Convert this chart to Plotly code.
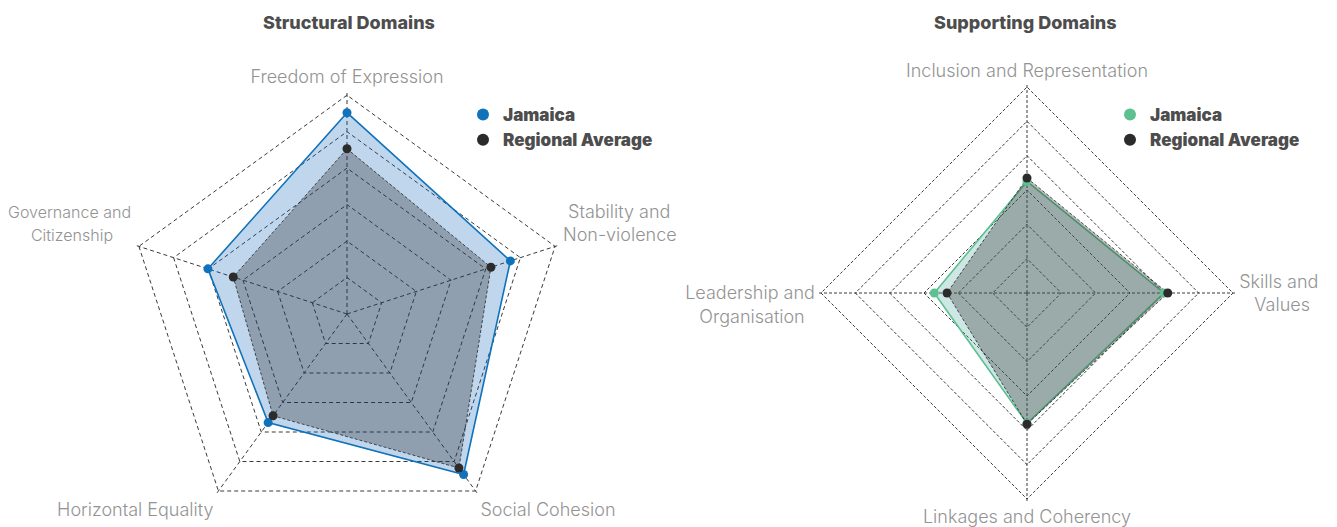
import plotly.graph_objects as go

NB = "\u00a0"
SMALL = "<span style='font-size:16px'>{}</span>"

# ---- data ----
structural_axes = ["Freedom of Expression", NB + "Stability and<br>Non-violence<br>" + NB,
                   "Social Cohesion", "Horizontal Equality",
                   SMALL.format("Governance and") + "<br>" + SMALL.format("Citizenship" + NB * 4)
                   + "<br>" + NB]
structural_jamaica = [5.52, 4.71, 5.44, 3.68, 4.01]
structural_regional = [4.53, 4.15, 5.22, 3.45, 3.28]

supporting_axes = ["Inclusion and Representation", "Skills and<br>" + NB * 3 + "Values",
                   "Linkages and Coherency", NB + "<br>Leadership and<br>Organisation" + NB * 2]
supporting_jamaica = [3.25, 3.99, 3.80, 2.70]
supporting_regional = [3.35, 4.10, 3.82, 2.33]

series_names = ["Jamaica", "Regional Average"]
panel_titles = ["Structural Domains", "Supporting Domains"]

FONT = "Inter"
LABEL_GREY = "#939393"
TEXT_DARK = "#4d4d4d"
DARK = "#2b2b2b"
BLUE = "#1072ba"
GREEN = "#5cc08f"

W, H = 1337, 527
OFF = 8  # page offset of the plot inside the browser window
RMAX = 6.06  # a bit past the outer ring so that ring 6 gets drawn


def closed(v):
    return list(v) + [v[0]]


fig = go.Figure()


def add_panel(polar, legend, axes, jam, reg, jam_color, jam_fill):
    fig.add_trace(go.Scatterpolar(
        r=closed(jam), theta=closed(axes), subplot=polar, mode="lines",
        fill="toself", fillcolor=jam_fill, line=dict(color=jam_color, width=1.6),
        showlegend=False, hoverinfo="skip"))
    fig.add_trace(go.Scatterpolar(
        r=closed(reg), theta=closed(axes), subplot=polar, mode="lines",
        fill="toself", fillcolor="rgba(40,40,40,0.31)",
        line=dict(color="rgba(40,40,40,0.8)", width=1, dash="3px,2px"),
        showlegend=False, hoverinfo="skip"))
    fig.add_trace(go.Scatterpolar(
        r=jam, theta=axes, subplot=polar, mode="markers", name=series_names[0],
        marker=dict(color=jam_color, size=9), legend=legend))
    fig.add_trace(go.Scatterpolar(
        r=reg, theta=axes, subplot=polar, mode="markers", name=series_names[1],
        marker=dict(color=DARK, size=9), legend=legend))


add_panel("polar", "legend", structural_axes, structural_jamaica, structural_regional,
          BLUE, "rgba(0,90,180,0.25)")
add_panel("polar2", "legend2", supporting_axes, supporting_jamaica, supporting_regional,
          GREEN, "rgba(80,170,160,0.28)")


def domain(cx, cy, ring):
    # cx, cy: centre in window pixels; ring: outer ring radius in pixels
    r = ring * RMAX / 6
    fx, fy = cx - OFF, cy - OFF
    fyb = H - fy
    return dict(x=[(fx - r) / W, (fx + r) / W], y=[max(0, (fyb - r) / H), min(1, (fyb + r) / H)])


def polar_layout(dom, dash, ticklen):
    return dict(
        domain=dom,
        gridshape="linear",
        bgcolor="rgba(0,0,0,0)",
        radialaxis=dict(range=[0, RMAX], dtick=1, showticklabels=False, ticks="",
                        showline=False, gridcolor="#3a3a3a", gridwidth=0.8, griddash=dash),
        angularaxis=dict(direction="clockwise", rotation=90, showline=False,
                         ticks="outside", ticklen=ticklen, tickcolor="rgba(0,0,0,0)",
                         gridcolor="#3a3a3a", gridwidth=0.8, griddash=dash,
                         tickfont=dict(family=FONT, size=18, color=LABEL_GREY, weight=300)),
    )


legend_common = dict(
    font=dict(family=FONT, size=17, color=TEXT_DARK, weight=900),
    bgcolor="rgba(0,0,0,0)", itemwidth=30, tracegroupgap=0,
    xanchor="left", yanchor="top", itemsizing="constant",
)

title_font = dict(family=FONT, size=18, color=TEXT_DARK, weight=800)

fig.update_layout(
    width=W, height=H,
    margin=dict(l=0, r=0, t=0, b=0),
    paper_bgcolor="white", plot_bgcolor="white",
    font=dict(family=FONT),
    polar=polar_layout(domain(347, 314, 218.8), "4px,3px", 2),
    polar2=polar_layout(domain(1027, 293, 206), "3px,2px", 0),
    legend=dict(x=(463 - OFF) / W, y=1 - (97 - OFF) / H, **legend_common),
    legend2=dict(x=(1110 - OFF) / W, y=1 - (97 - OFF) / H, **legend_common),
    annotations=[
        dict(text=panel_titles[0], x=(349 - OFF) / W, y=1 - (22 - OFF) / H, xref="paper",
             yref="paper", xanchor="center", yanchor="middle", showarrow=False,
             font=title_font),
        dict(text=panel_titles[1], x=(1025 - OFF) / W, y=1 - (22 - OFF) / H, xref="paper",
             yref="paper", xanchor="center", yanchor="middle", showarrow=False,
             font=title_font),
    ],
)

fig.write_html("out.html")
